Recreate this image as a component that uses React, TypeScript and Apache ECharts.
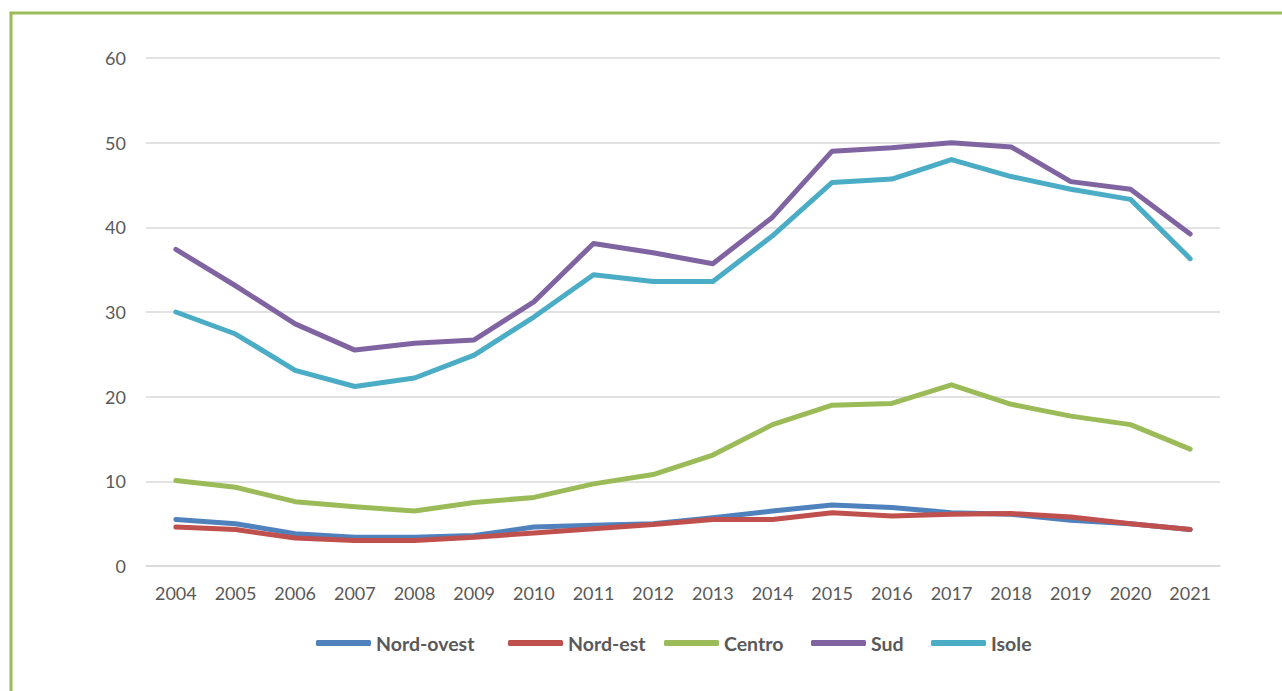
import React, { useEffect, useRef } from "react";
import * as echarts from "echarts";

const years = ["2004","2005","2006","2007","2008","2009","2010","2011","2012","2013","2014","2015","2016","2017","2018","2019","2020","2021"];
const nordOvest = [5.5,5.0,3.8,3.4,3.4,3.6,4.6,4.8,5.0,5.7,6.5,7.2,6.9,6.3,6.1,5.4,5.0,4.3];
const nordEst = [4.6,4.3,3.3,3.0,3.0,3.4,3.9,4.4,4.9,5.5,5.5,6.3,5.9,6.1,6.2,5.8,5.0,4.3];
const centro = [10.1,9.3,7.6,7.0,6.5,7.5,8.1,9.7,10.8,13.1,16.7,19.0,19.2,21.4,19.1,17.7,16.7,13.8];
const sud = [37.4,33.1,28.6,25.5,26.3,26.7,31.2,38.1,37.0,35.7,41.2,49.0,49.4,50.0,49.5,45.4,44.5,39.2];
const isole = [30.0,27.4,23.1,21.2,22.2,24.9,29.4,34.4,33.6,33.6,39.0,45.3,45.7,48.0,46.0,44.5,43.3,36.3];

const seriesNames = ["Nord-ovest","Nord-est","Centro","Sud","Isole"];
const seriesData = [nordOvest, nordEst, centro, sud, isole];
const colors = ["#4F81BD","#C0504D","#9BBB59","#8064A2","#4BACC6"];
const legendLeft = [316, 508, 664, 811, 931];

export default function App() {
  const ref = useRef<HTMLDivElement>(null);
  useEffect(() => {
    if (!ref.current) return;
    const chart = echarts.init(ref.current, null, { renderer: "svg" });
    const font = "Lato, 'Open Sans', sans-serif";
    chart.setOption({
      animation: false,
      backgroundColor: "#ffffff",
      color: colors,
      textStyle: { fontFamily: font },
      graphic: [
        {
          type: "rect",
          shape: { x: 11, y: 13, width: 1400, height: 800 },
          style: { fill: "none", stroke: "#9BBB59", lineWidth: 3 },
          silent: true,
        },
      ],
      grid: { left: 146, right: 62, top: 58, bottom: 125 },
      legend: seriesNames.map((name, i) => ({
        bottom: 38,
        left: legendLeft[i],
        padding: 0,
        icon: "roundRect",
        itemWidth: 55,
        itemHeight: 6,
        textStyle: { color: "#595959", fontSize: 19.5, fontWeight: "bold", fontFamily: font },
        data: [name],
      })),
      xAxis: {
        type: "category",
        data: years,
        boundaryGap: true,
        axisLine: { show: true, lineStyle: { color: "#D9D9D9", width: 1.5 } },
        axisTick: { show: false },
        axisLabel: { color: "#595959", fontSize: 18, margin: 18, fontFamily: font },
      },
      yAxis: {
        type: "value",
        min: 0,
        max: 60,
        interval: 10,
        axisLine: { show: false },
        axisTick: { show: false },
        axisLabel: { color: "#595959", fontSize: 18, margin: 20, fontFamily: font },
        splitLine: { lineStyle: { color: "#D9D9D9", width: 1.5 } },
      },
      series: seriesNames.map((name, i) => ({
        name,
        type: "line",
        data: seriesData[i],
        showSymbol: false,
        symbol: "none",
        lineStyle: { width: 5, color: colors[i], cap: "round", join: "round" },
        itemStyle: { color: colors[i] },
      })),
    });
    return () => chart.dispose();
  }, []);
  return (
    <div
      ref={ref}
      style={{ position: "fixed", left: 0, top: 0, width: 1282, height: 691 }}
    />
  );
}
